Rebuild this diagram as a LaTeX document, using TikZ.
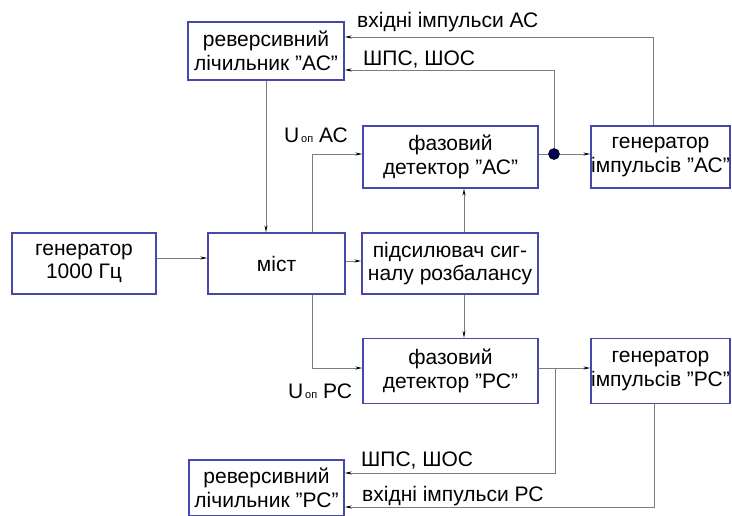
\documentclass[tikz,border=0pt]{standalone}
\usepackage{fontspec}
\setmainfont{Liberation Sans}
\usetikzlibrary{arrows.meta}
\definecolor{boxblue}{RGB}{72,72,170}
\definecolor{linegray}{RGB}{125,125,125}
\definecolor{dotblue}{RGB}{0,0,90}
\tikzset{
  blk/.style={draw=boxblue, line width=1.3pt, align=center, inner sep=0pt,
    font=\fontsize{21pt}{23.5pt}\selectfont},
  conn/.style={draw=linegray, line width=0.9pt},
  arr/.style={-{Stealth[length=7pt,width=3pt,color=black]}},
  lbl/.style={anchor=base west, inner sep=0pt, font=\fontsize{21pt}{23pt}\selectfont},
  junct/.style={circle, fill=dotblue, draw=black, line width=0.6pt, minimum size=11pt, inner sep=0pt}
}
\newcommand{\uop}{U{\fontsize{11pt}{11pt}\selectfont\,оп}}
\begin{document}
\begin{tikzpicture}[x=1pt,y=-1pt]
\useasboundingbox (0,0) rectangle (732,515);
% blocks
\node[blk, minimum width=156pt, minimum height=58pt] (revAC) at (266,51) {реверсивний\\лічильник "АС"};
\node[blk, minimum width=175pt, minimum height=62pt] (detAC) at (450.5,157) {фазовий\\детектор "АС"};
\node[blk, minimum width=139pt, minimum height=62pt] (genAC) at (660.5,157) {генератор\\імпульсів "АС"};
\node[blk, minimum width=144pt, minimum height=61pt] (gen) at (84,263.5) {генератор\\1000 Гц};
\node[blk, minimum width=137pt, minimum height=61pt] (mist) at (276.5,263.5) {міст};
\node[blk, minimum width=176pt, minimum height=61pt] (amp) at (450,263.5) {підсилювач сиг-\\налу розбалансу};
\node[blk, minimum width=175pt, minimum height=65pt] (detPC) at (450.5,371) {фазовий\\детектор "РС"};
\node[blk, minimum width=139pt, minimum height=65pt] (genPC) at (660.5,371) {генератор\\імпульсів "РС"};
\node[blk, minimum width=155pt, minimum height=56pt] (revPC) at (266.5,488) {реверсивний\\лічильник "РС"};
% junction
\node[junct] (dotAC) at (554,154) {};
% helper coordinates
\coordinate (yInAC) at (653,37);
\coordinate (yShAC) at (554,70);
\coordinate (xU) at (312,0);
\coordinate (xAmp) at (464,0);
\coordinate (yDet) at (0,368);
\coordinate (jPC) at (555,368);
\coordinate (yShPC) at (0,473);
\coordinate (yInPC) at (654,507);
% connectors
\draw[conn,arr] (genAC.north -| yInAC) |- (revAC.east |- yInAC);
\draw[conn,arr] (dotAC) |- (revAC.east |- yShAC);
\draw[conn] (detAC.east |- dotAC) -- (dotAC);
\draw[conn,arr] (dotAC) -- (genAC.west |- dotAC);
\draw[conn,arr] (revAC.south) -- (revAC.south |- mist.north);
\draw[conn,arr] (gen.east |- 0,258) -- (mist.west |- 0,258);
\draw[conn,arr] (mist.east |- 0,261) -- (amp.west |- 0,261);
\draw[conn,arr] (mist.north -| xU) |- (detAC.west |- dotAC);
\draw[conn,arr] (mist.south -| xU) |- (detPC.west |- yDet);
\draw[conn,arr] (amp.north -| xAmp) -- (detAC.south -| xAmp);
\draw[conn,arr] (amp.south -| xAmp) -- (detPC.north -| xAmp);
\draw[conn,arr] (detPC.east |- yDet) -- (genPC.west |- yDet);
\draw[conn,arr] (jPC) |- (revPC.east |- yShPC);
\draw[conn,arr] (genPC.south -| yInPC) |- (revPC.east |- yInPC);
% labels
\node[lbl] (l1) at (357,27) {вхідні імпульси АС};
\node[lbl] (l2) at (363,65) {ШПС, ШОС};
\node[lbl] (l3) at (284,142) {\uop\ АС};
\node[lbl] (l4) at (288,398) {\uop\ РС};
\node[lbl] (l5) at (361,466) {ШПС, ШОС};
\node[lbl] (l6) at (362,501) {вхідні імпульси РС};
\end{tikzpicture}
\end{document}
